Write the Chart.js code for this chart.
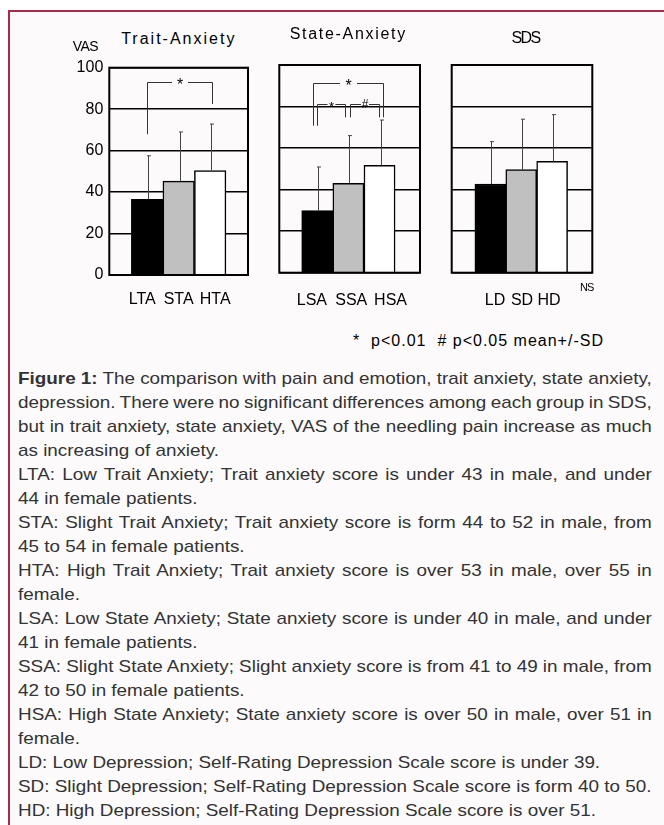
<!DOCTYPE html>
<html><head><meta charset="utf-8">
<script src="https://cdn.jsdelivr.net/npm/chart.js@4.4.1/dist/chart.umd.min.js"></script>
<style>
html,body{margin:0;padding:0;background:#fff;width:664px;height:825px;overflow:hidden;font-family:"Liberation Sans",Arial,sans-serif;}
#frame{position:absolute;left:8px;top:10px;width:656px;height:815px;border-top:2px solid #a92a4b;border-left:2px solid #a92a4b;background:#fcfafb;}
canvas{position:absolute;}
.t{position:absolute;white-space:pre;color:#000;line-height:1;}
#cap{position:absolute;left:18px;top:367px;width:571px;color:#333;font-size:17px;line-height:24px;transform:scaleX(1.11);transform-origin:0 0;}
#cap div{white-space:nowrap;height:24px;}
</style>
</head><body>
<div id="frame"></div>
<canvas id="c1" width="200" height="260" style="left:60px;top:50px;width:200px;height:260px"></canvas>
<canvas id="c2" width="160" height="260" style="left:270px;top:50px;width:160px;height:260px"></canvas>
<canvas id="c3" width="160" height="260" style="left:442px;top:50px;width:160px;height:260px"></canvas>

<div class="t" style="left:78.8px;width:200px;text-align:center;top:30.5px;font-size:16px;letter-spacing:2px">Trait-Anxiety</div>
<div class="t" style="left:248.3px;width:200px;text-align:center;top:26px;font-size:16px;letter-spacing:1.7px">State-Anxiety</div>
<div class="t" style="left:425.5px;width:200px;text-align:center;top:29.8px;font-size:16px;letter-spacing:-1.7px">SDS</div>
<div class="t" style="left:72.7px;top:38.9px;font-size:14px;letter-spacing:-0.5px">VAS</div>
<div class="t" style="left:580px;top:282.4px;font-size:11px;letter-spacing:-1px">NS</div>
<div class="t" style="left:353px;top:333px;font-size:16px;letter-spacing:1px">*  p&lt;0.01  # p&lt;0.05 mean+/-SD</div>

<div id="cap">
<div class="j"><span><b>Figure 1:</b> The comparison with pain and emotion, trait anxiety, state anxiety,</span></div>
<div class="j"><span>depression. There were no significant differences among each group in SDS,</span></div>
<div class="j"><span>but in trait anxiety, state anxiety, VAS of the needling pain increase as much</span></div>
<div><span>as increasing of anxiety.</span></div>
<div class="j"><span>LTA: Low Trait Anxiety; Trait anxiety score is under 43 in male, and under</span></div>
<div><span>44 in female patients.</span></div>
<div class="j"><span>STA: Slight Trait Anxiety; Trait anxiety score is form 44 to 52 in male, from</span></div>
<div><span>45 to 54 in female patients.</span></div>
<div class="j"><span>HTA: High Trait Anxiety; Trait anxiety score is over 53 in male, over 55 in</span></div>
<div><span>female.</span></div>
<div class="j"><span>LSA: Low State Anxiety; State anxiety score is under 40 in male, and under</span></div>
<div><span>41 in female patients.</span></div>
<div class="j"><span>SSA: Slight State Anxiety; Slight anxiety score is from 41 to 49 in male, from</span></div>
<div><span>42 to 50 in female patients.</span></div>
<div class="j"><span>HSA: High State Anxiety; State anxiety score is over 50 in male, over 51 in</span></div>
<div><span>female.</span></div>
<div><span>LD: Low Depression; Self-Rating Depression Scale score is under 39.</span></div>
<div><span>SD: Slight Depression; Self-Rating Depression Scale score is form 40 to 50.</span></div>
<div><span>HD: High Depression; Self-Rating Depression Scale score is over 51.</span></div>
</div>

<script>
// ---- data ----
const traitLabels = ['LTA', 'STA', 'HTA'];
const traitMeans  = [36.5, 45.3, 50.4];
const traitSD     = [21.0, 23.7, 22.4];

const stateLabels = ['LSA', 'SSA', 'HSA'];
const stateMeans  = [29.9, 43.0, 51.7];
const stateSD     = [21.0, 23.0, 21.8];

const sdsLabels = ['LD', 'SD', 'HD'];
const sdsMeans  = [42.7, 49.6, 53.6];
const sdsSD     = [20.4, 24.3, 22.5];

const yTicks = [0, 20, 40, 60, 80, 100];
const barColors = ['#000000', '#c0c0c0', '#ffffff'];

// significance brackets (x in group index units, y in VAS units)
const traitBrackets = [
  {from: 0, to: 2.07, y: 93, leftEnd: 67.9, rightEnd: 82.5, label: '*', size: 16, gap: 16}
];
const stateBrackets = [
  {from: -0.13, to: 2.1, y: 91.5, leftEnd: 70.8, rightEnd: 74.8, label: '*', size: 16, gap: 17},
  {from: 0, to: 0.9, y: 81.1, leftEnd: 70.8, rightEnd: 74.8, label: '*', size: 13, gap: 8},
  {from: 1.04, to: 1.98, y: 81.1, leftEnd: 74.8, rightEnd: 74.8, label: '#', size: 12, gap: 8}
];
const sdsBrackets = [];

const FONT = '"Liberation Sans", Arial, sans-serif';

const annotPlugin = {
  id: 'annot',
  afterDatasetsDraw(chart, args, opts) {
    const ctx = chart.ctx, xs = chart.scales.x, ys = chart.scales.y;
    const ds = chart.data.datasets[0];
    ctx.save();
    // error bars (upper only)
    ctx.strokeStyle = '#444';
    ctx.lineWidth = 1;
    ds.data.forEach((p, i) => {
      const x = Math.round(xs.getPixelForValue(p.x)) + 1.5;
      const y0 = ys.getPixelForValue(p.y);
      const y1 = ys.getPixelForValue(p.y + ds.errors[i]);
      ctx.beginPath();
      ctx.moveTo(x, y0); ctx.lineTo(x, y1);
      ctx.moveTo(x - 1.5, y1); ctx.lineTo(x + 2.5, y1);
      ctx.stroke();
    });
    // brackets
    ctx.strokeStyle = '#333';
    ctx.fillStyle = '#000';
    (opts.brackets || []).forEach(b => {
      const xa = Math.round(xs.getPixelForValue(b.from)) + 0.5;
      const xb = Math.round(xs.getPixelForValue(b.to)) + 0.5;
      const y = Math.round(ys.getPixelForValue(b.y)) + 0.5;
      const ya = ys.getPixelForValue(b.leftEnd);
      const yb = ys.getPixelForValue(b.rightEnd);
      const xm = (xa + xb) / 2;
      ctx.beginPath();
      ctx.moveTo(xa, ya); ctx.lineTo(xa, y); ctx.lineTo(xm - b.gap / 2, y);
      ctx.moveTo(xm + b.gap / 2, y); ctx.lineTo(xb, y); ctx.lineTo(xb, yb);
      ctx.stroke();
      ctx.font = b.size + 'px ' + FONT;
      ctx.textAlign = 'center';
      ctx.textBaseline = 'middle';
      const dy = b.label === '*' ? b.size * 0.22 : 0;
      ctx.fillText(b.label, xm, y + dy);
    });
    // frame
    const a = chart.chartArea;
    ctx.strokeStyle = '#000';
    ctx.lineWidth = 2;
    ctx.strokeRect(a.left, a.top, a.right - a.left, a.bottom - a.top);
    ctx.restore();
  }
};

function makePanel(id, labels, means, sds, brackets, cfg) {
  new Chart(document.getElementById(id), {
    type: 'bar',
    data: {
      datasets: [{
        data: means.map((v, i) => ({x: i, y: v})),
        errors: sds,
        backgroundColor: barColors,
        borderColor: '#000',
        borderWidth: 1.5,
        borderSkipped: 'start',
        categoryPercentage: 1,
        barPercentage: 1
      }]
    },
    options: {
      responsive: false,
      animation: false,
      events: [],
      layout: {padding: {top: cfg.padTop, right: cfg.padRight, left: 0, bottom: 0}},
      plugins: {legend: {display: false}, tooltip: {enabled: false}, annot: {brackets}},
      scales: {
        x: {
          type: 'linear',
          display: false,
          offset: false,
          min: cfg.xMin, max: cfg.xMax,
          afterBuildTicks: s => { s.ticks = labels.map((_, i) => ({value: i})); }
        },
        xl: {
          type: 'linear',
          position: 'bottom',
          offset: false,
          min: cfg.lMin, max: cfg.lMax,
          afterBuildTicks: s => { s.ticks = labels.map((_, i) => ({value: i})); },
          afterFit: s => { s.height = cfg.xHeight; },
          grid: {display: false, drawTicks: false},
          border: {display: false},
          ticks: {
            autoSkip: false, maxRotation: 0, padding: cfg.xPad, color: '#000',
            font: {family: FONT, size: 16},
            callback: v => labels[v]
          }
        },
        y: {
          min: 0, max: 100,
          afterBuildTicks: s => { s.ticks = yTicks.map(v => ({value: v})); },
          afterFit: s => { s.width = cfg.yWidth; },
          grid: {color: '#000', lineWidth: 1.5, drawTicks: false},
          border: {display: false},
          ticks: {display: cfg.showY, padding: 6, color: '#000', font: {family: FONT, size: 16}}
        }
      }
    },
    plugins: [annotPlugin]
  });
}

makePanel('c1', traitLabels, traitMeans, traitSD, traitBrackets,
  {padTop: 17.7, padRight: 12, yWidth: 49.3, xHeight: 35, xPad: 15, xMin: -1.2, xMax: 3.2,
   lMin: -0.9, lMax: 2.9, showY: true});
makePanel('c2', stateLabels, stateMeans, stateSD, stateBrackets,
  {padTop: 15, padRight: 10, yWidth: 9.3, xHeight: 37.3, xPad: 18, xMin: -1.22, xMax: 3.3,
   lMin: -0.83, lMax: 2.75, showY: false});
makePanel('c3', sdsLabels, sdsMeans, sdsSD, sdsBrackets,
  {padTop: 15, padRight: 9.7, yWidth: 9.7, xHeight: 37.3, xPad: 18, xMin: -1.25, xMax: 3.3,
   lMin: -1.6, lMax: 3.6, showY: false});

// justify full caption lines to the caption width
function justify() {
  const W = 571;
  document.querySelectorAll('#cap div.j span').forEach(sp => {
    sp.style.wordSpacing = '0px';
    const w = sp.getBoundingClientRect().width / 1.11;
    const n = (sp.textContent.match(/ /g) || []).length;
    if (n) sp.style.wordSpacing = ((W - w) / n) + 'px';
  });
}
justify();
if (document.fonts && document.fonts.ready) document.fonts.ready.then(justify);
</script>
</body></html>
